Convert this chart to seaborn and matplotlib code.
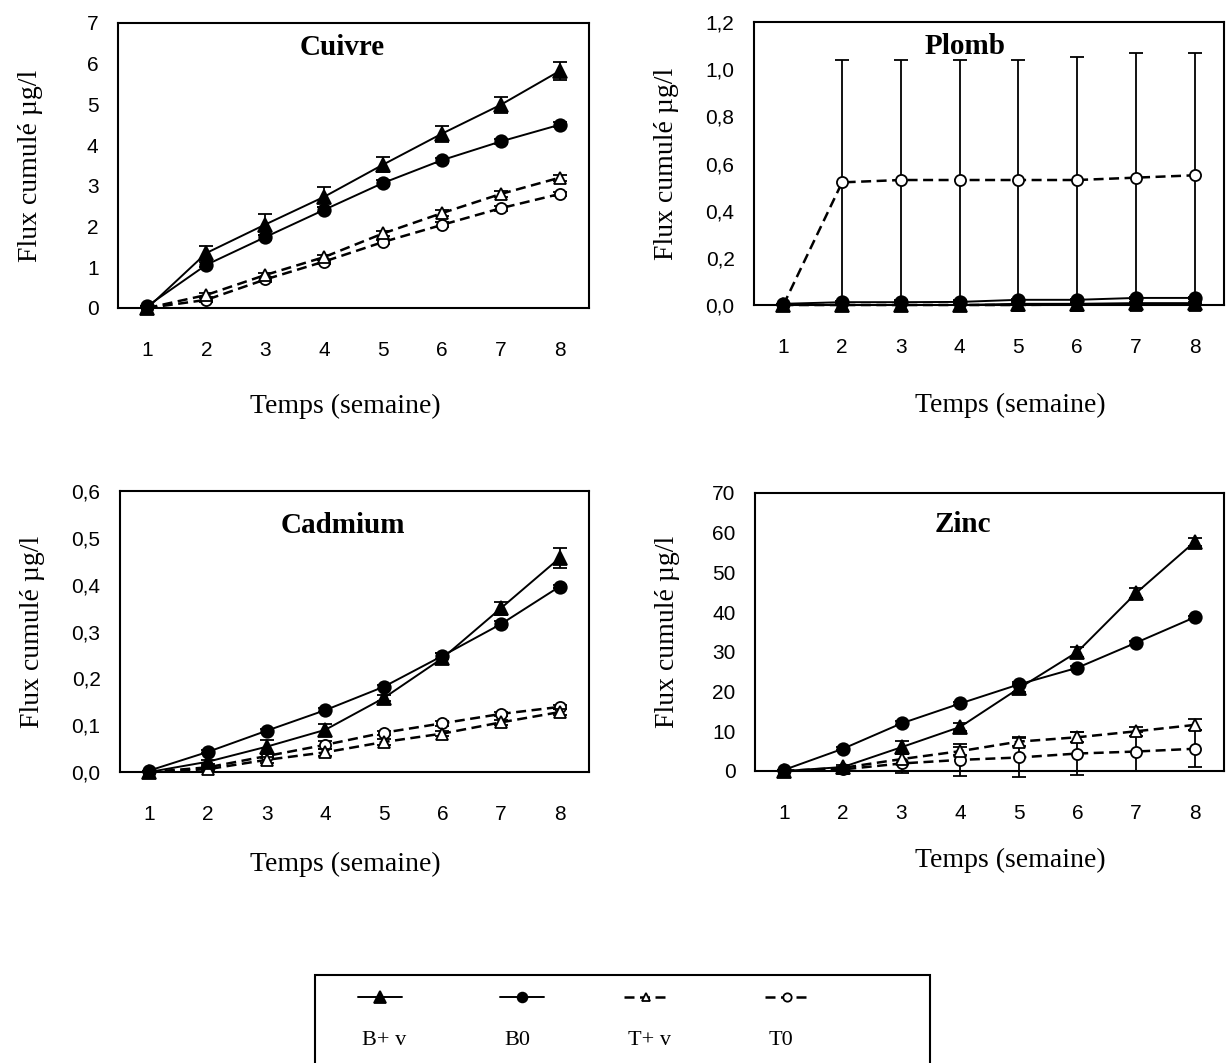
import matplotlib
matplotlib.use("Agg")
import matplotlib.pyplot as plt
from matplotlib.lines import Line2D
from matplotlib.patches import Rectangle
import seaborn as sns

# weeks
weeks = [1, 2, 3, 4, 5, 6, 7, 8]
series = ["B+ v", "B0", "T+ v", "T0"]

# Cuivre
cu_bv = [0.0, 1.35, 2.05, 2.73, 3.52, 4.28, 4.99, 5.82]
cu_bv_err = [0.0, 0.18, 0.25, 0.24, 0.18, 0.2, 0.2, 0.22]
cu_b0 = [0.05, 1.06, 1.74, 2.41, 3.07, 3.63, 4.09, 4.5]
cu_b0_err = [0.0, 0.06, 0.06, 0.06, 0.08, 0.06, 0.05, 0.06]
cu_tv = [0.0, 0.32, 0.81, 1.25, 1.83, 2.33, 2.8, 3.2]
cu_tv_err = [0.0, 0.05, 0.05, 0.06, 0.06, 0.07, 0.08, 0.07]
cu_t0 = [0.0, 0.2, 0.7, 1.14, 1.62, 2.04, 2.45, 2.8]
cu_t0_err = [0.0, 0.05, 0.05, 0.05, 0.05, 0.06, 0.06, 0.05]

# Plomb
pb_bv = [0.0, 0.0, 0.0, 0.0, 0.005, 0.005, 0.008, 0.008]
pb_bv_err = [0.0, 0.002, 0.002, 0.002, 0.003, 0.003, 0.003, 0.003]
pb_b0 = [0.005, 0.012, 0.012, 0.013, 0.022, 0.022, 0.03, 0.03]
pb_b0_err = [0.0, 0.003, 0.003, 0.003, 0.004, 0.004, 0.004, 0.004]
pb_tv = [0.0, 0.0, 0.0, 0.0, 0.0, 0.002, 0.002, 0.002]
pb_tv_err = [0.0, 0.0, 0.0, 0.0, 0.0, 0.001, 0.001, 0.001]
pb_t0 = [0.0, 0.52, 0.53, 0.53, 0.53, 0.53, 0.54, 0.55]
pb_t0_err = [0.0, 0.52, 0.51, 0.51, 0.51, 0.52, 0.53, 0.52]

# Cadmium
cd_bv = [0.0, 0.022, 0.054, 0.09, 0.158, 0.243, 0.35, 0.457]
cd_bv_err = [0.0, 0.004, 0.015, 0.013, 0.006, 0.012, 0.014, 0.022]
cd_b0 = [0.003, 0.043, 0.088, 0.132, 0.182, 0.248, 0.316, 0.396]
cd_b0_err = [0.0, 0.003, 0.004, 0.004, 0.004, 0.006, 0.006, 0.004]
cd_tv = [0.0, 0.006, 0.026, 0.042, 0.064, 0.082, 0.106, 0.128]
cd_tv_err = [0.0, 0.003, 0.006, 0.008, 0.006, 0.006, 0.006, 0.006]
cd_t0 = [0.0, 0.01, 0.034, 0.058, 0.084, 0.104, 0.124, 0.139]
cd_t0_err = [0.0, 0.003, 0.005, 0.008, 0.004, 0.005, 0.005, 0.005]

# Zinc
zn_bv = [0.0, 1.0, 6.0, 11.1, 20.8, 30.0, 44.8, 57.7]
zn_bv_err = [0.0, 0.5, 1.5, 1.0, 1.0, 1.2, 1.3, 1.0]
zn_b0 = [0.3, 5.6, 12.0, 17.0, 21.8, 26.0, 32.3, 38.7]
zn_b0_err = [0.0, 0.4, 0.5, 0.4, 0.5, 0.5, 0.5, 0.4]
zn_tv = [0.0, 0.8, 3.0, 5.0, 7.4, 8.5, 10.0, 11.6]
zn_tv_err = [0.0, 0.3, 1.2, 1.0, 1.1, 1.2, 1.1, 1.4]
zn_t0 = [0.0, 0.4, 1.9, 2.8, 3.4, 4.4, 4.9, 5.6]
zn_t0_err = [0.0, 0.3, 2.4, 4.0, 5.0, 5.3, 4.9, 4.6]

# y ticks
cu_ticks = [0, 1, 2, 3, 4, 5, 6, 7]
pb_ticks = [0.0, 0.2, 0.4, 0.6, 0.8, 1.0, 1.2]
cd_ticks = [0.0, 0.1, 0.2, 0.3, 0.4, 0.5, 0.6]
zn_ticks = [0, 10, 20, 30, 40, 50, 60, 70]

sns.set_style("white")
plt.rcParams["font.family"] = ["Liberation Sans", "DejaVu Sans"]
plt.rcParams["text.color"] = "black"
plt.rcParams["axes.labelcolor"] = "black"
plt.rcParams["xtick.color"] = "black"
plt.rcParams["ytick.color"] = "black"
SERIF = ["Liberation Serif", "DejaVu Serif"]

W, H = 1226, 1063
fig = plt.figure(figsize=(W / 100, H / 100), dpi=100)


def px_axes(l, t, r, b):
    return fig.add_axes([l / W, 1 - b / H, (r - l) / W, (b - t) / H])


# marker / line style of each series
styles = {
    "B+ v": dict(marker="^", markersize=10, markerfacecolor="black", linestyle="-", linewidth=1.4),
    "B0": dict(marker="o", markersize=9, markerfacecolor="black", linestyle="-", linewidth=1.4),
    "T+ v": dict(marker="^", markersize=8, markerfacecolor="white", linestyle=(0, (4, 2.2)), linewidth=1.8),
    "T0": dict(marker="o", markersize=8, markerfacecolor="white", linestyle=(0, (4, 2.2)), linewidth=1.8),
}
order = ["T0", "T+ v", "B0", "B+ v"]


def draw_panel(ax, title, data, ticks, comma, title_xy, xlab_xy):
    for i, name in enumerate(order):
        vals, errs = data[name]
        st = styles[name]
        sns.lineplot(x=weeks, y=vals, ax=ax, color="black", errorbar=None,
                     markeredgecolor="black", markeredgewidth=1.3,
                     clip_on=False, zorder=3 + i, **st)
        eb = ax.errorbar(weeks, vals, yerr=errs, fmt="none", ecolor="black",
                         elinewidth=1.3, capsize=5, capthick=1.3, zorder=2 + i)
        for child in eb.get_children():
            child.set_clip_on(False)
    ax.set_xlim(0.5, 8.5)
    ax.set_ylim(ticks[0], ticks[-1])
    ax.set_xticks([0.5] + weeks + [8.5])
    ax.set_xticklabels([""] + [str(w) for w in weeks] + [""])
    ax.set_yticks(ticks)
    if comma:
        ax.set_yticklabels([f"{t:.1f}".replace(".", ",") for t in ticks])
    else:
        ax.set_yticklabels([str(t) for t in ticks])
    ax.tick_params(axis="both", direction="out", length=7, width=1.2,
                   colors="black", labelsize=15)
    ax.tick_params(axis="x", pad=17)
    ax.tick_params(axis="y", pad=7)
    for sp in ax.spines.values():
        sp.set_visible(True)
        sp.set_color("black")
        sp.set_linewidth(1.5)
    ax.set_xlabel("Temps (semaine)", family=SERIF, fontsize=20)
    ax.xaxis.set_label_coords(*xlab_xy)
    ax.set_ylabel("Flux cumulé µg/l", family=SERIF, fontsize=20)
    ax.yaxis.set_label_coords(-0.16, 0.5)
    ax.text(title_xy[0], title_xy[1], title, transform=ax.transAxes,
            ha="center", va="center", family=SERIF, fontsize=21,
            fontweight="bold")


ax_cu = px_axes(118, 23, 589, 308)
draw_panel(ax_cu, "Cuivre",
           {"B+ v": (cu_bv, cu_bv_err), "B0": (cu_b0, cu_b0_err),
            "T+ v": (cu_tv, cu_tv_err), "T0": (cu_t0, cu_t0_err)},
           cu_ticks, False, (0.476, 0.915), (0.483, -0.30))

ax_pb = px_axes(754, 22, 1224, 305)
draw_panel(ax_pb, "Plomb",
           {"B+ v": (pb_bv, pb_bv_err), "B0": (pb_b0, pb_b0_err),
            "T+ v": (pb_tv, pb_tv_err), "T0": (pb_t0, pb_t0_err)},
           pb_ticks, True, (0.449, 0.912), (0.545, -0.31))

ax_cd = px_axes(120, 491, 589, 772)
draw_panel(ax_cd, "Cadmium",
           {"B+ v": (cd_bv, cd_bv_err), "B0": (cd_b0, cd_b0_err),
            "T+ v": (cd_tv, cd_tv_err), "T0": (cd_t0, cd_t0_err)},
           cd_ticks, True, (0.475, 0.879), (0.48, -0.285))

ax_zn = px_axes(755, 493, 1224, 771)
draw_panel(ax_zn, "Zinc",
           {"B+ v": (zn_bv, zn_bv_err), "B0": (zn_b0, zn_b0_err),
            "T+ v": (zn_tv, zn_tv_err), "T0": (zn_t0, zn_t0_err)},
           zn_ticks, False, (0.443, 0.885), (0.545, -0.275))

# legend: sample line on first row, name under it
handles, labels = [], []
for name in series:
    st = styles[name]
    handles.append(Line2D([], [], color="black", markeredgecolor="black",
                          markeredgewidth=1.3, **{**st, "markersize": st["markersize"] - 2}))
    labels.append("")
    handles.append(Line2D([], [], linestyle="none"))
    labels.append(name)

leg = fig.legend(handles, labels, ncol=4, loc="upper left",
                 bbox_to_anchor=(358 / W, 1 - 989 / H),
                 borderaxespad=0, borderpad=0, frameon=False,
                 handlelength=2.0, handletextpad=-1.8, columnspacing=4.2,
                 labelspacing=0.9, prop={"family": SERIF, "size": 16})

# box around the legend (runs past the bottom edge like the original)
fig.patches.append(Rectangle((315 / W, -0.02), 615 / W, 1 - 975 / H + 0.02,
                             transform=fig.transFigure, fill=False,
                             edgecolor="black", linewidth=1.5))

fig.savefig("out.png", dpi=100)
